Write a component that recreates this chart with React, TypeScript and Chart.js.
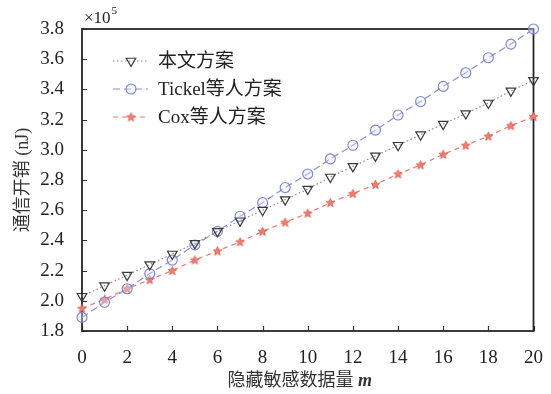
import React, { useEffect, useRef } from 'react';
import { Chart, registerables } from 'chart.js';
import { drawPoint } from 'chart.js/helpers';

Chart.register(...registerables);

const xValues = [0, 1, 2, 3, 4, 5, 6, 7, 8, 9, 10, 11, 12, 13, 14, 15, 16, 17, 18, 19, 20];
const oursValues = [2.03, 2.10, 2.17, 2.24, 2.31, 2.38, 2.46, 2.53, 2.60, 2.67, 2.74, 2.82, 2.89, 2.96, 3.03, 3.10, 3.17, 3.24, 3.31, 3.39, 3.46];
const tickelValues = [1.89, 1.99, 2.08, 2.18, 2.27, 2.37, 2.46, 2.56, 2.65, 2.75, 2.84, 2.94, 3.03, 3.13, 3.23, 3.32, 3.42, 3.51, 3.61, 3.70, 3.80];
const coxValues = [1.95, 2.01, 2.08, 2.14, 2.20, 2.27, 2.33, 2.39, 2.46, 2.52, 2.58, 2.65, 2.71, 2.77, 2.84, 2.90, 2.97, 3.03, 3.09, 3.16, 3.22];
const seriesLabels = ['本文方案', 'Tickel等人方案', 'Cox等人方案'];
const yAxisTitle = '通信开销 (nJ)';
const xAxisTitle = '隐藏敏感数据量';
const xAxisVar = 'm';
const yScaleNote = '×10';
const yScaleExp = '5';

const SERIF = '"Liberation Serif", "Noto Sans CJK SC", serif';

function makeStar(fill: string, stroke: string): HTMLCanvasElement {
  const c = document.createElement('canvas');
  c.width = 11;
  c.height = 11;
  const ctx = c.getContext('2d')!;
  const cx = 5.5, cy = 5.8, ro = 4.6, ri = 2.0;
  ctx.beginPath();
  for (let i = 0; i < 10; i++) {
    const r = i % 2 === 0 ? ro : ri;
    const a = -Math.PI / 2 + (i * Math.PI) / 5;
    const px = cx + r * Math.cos(a);
    const py = cy + r * Math.sin(a);
    if (i === 0) ctx.moveTo(px, py); else ctx.lineTo(px, py);
  }
  ctx.closePath();
  ctx.fillStyle = fill;
  ctx.fill();
  ctx.lineWidth = 0.8;
  ctx.strokeStyle = stroke;
  ctx.stroke();
  return c;
}

const decorPlugin = {
  id: 'decor',
  beforeDatasetsDraw(chart: any) {
    const { ctx, chartArea } = chart;
    const xs = chart.scales.x;
    const ys = chart.scales.y;
    ctx.save();
    ctx.strokeStyle = '#333';
    ctx.lineWidth = 1.2;
    ctx.beginPath();
    xs.ticks.forEach((t: any) => {
      const px = Math.round(xs.getPixelForValue(t.value)) + 0.5;
      ctx.moveTo(px, chartArea.bottom);
      ctx.lineTo(px, chartArea.bottom - 5);
    });
    ys.ticks.forEach((t: any) => {
      const py = Math.round(ys.getPixelForValue(t.value)) + 0.5;
      ctx.moveTo(chartArea.left, py);
      ctx.lineTo(chartArea.left + 5, py);
    });
    ctx.stroke();
    ctx.lineWidth = 1.8;
    ctx.strokeStyle = '#262626';
    ctx.strokeRect(chartArea.left, chartArea.top, chartArea.right - chartArea.left, chartArea.bottom - chartArea.top);
    ctx.restore();
  },
  afterDraw(chart: any) {
    const { ctx, chartArea } = chart;
    ctx.save();
    const rowY = [61, 89, 117];
    chart.data.datasets.forEach((ds: any, i: number) => {
      const y = rowY[i];
      ctx.save();
      ctx.strokeStyle = ds.borderColor;
      ctx.lineWidth = ds.borderWidth;
      ctx.setLineDash(ds.borderDash || []);
      ctx.beginPath();
      ctx.moveTo(chartArea.left + 31, y);
      ctx.lineTo(chartArea.left + 66, y);
      ctx.stroke();
      ctx.restore();
      ctx.save();
      ctx.strokeStyle = ds.pointBorderColor;
      ctx.fillStyle = ds.pointBackgroundColor;
      ctx.lineWidth = ds.pointBorderWidth;
      drawPoint(ctx, {
        pointStyle: ds.pointStyle,
        rotation: ds.pointRotation || 0,
        radius: ds.pointRadius,
        borderWidth: ds.pointBorderWidth,
      } as any, chartArea.left + 49, y);
      ctx.restore();
      ctx.fillStyle = '#222';
      ctx.font = '19px ' + SERIF;
      ctx.textBaseline = 'middle';
      ctx.textAlign = 'left';
      ctx.fillText(ds.label, chartArea.left + 76, y + 1);
    });
    ctx.fillStyle = '#333';
    ctx.font = '18px ' + SERIF;
    ctx.textBaseline = 'middle';
    ctx.textAlign = 'left';
    const w1 = ctx.measureText(xAxisTitle + ' ').width;
    ctx.font = 'italic bold 18px ' + SERIF;
    const w2 = ctx.measureText(xAxisVar).width;
    const startX = (chartArea.left + chartArea.right) / 2 - (w1 + w2) / 2 - 8;
    ctx.font = '18px ' + SERIF;
    ctx.fillText(xAxisTitle + ' ', startX, 381);
    ctx.font = 'italic bold 18px ' + SERIF;
    ctx.fillText(xAxisVar, startX + w1, 381);
    ctx.font = '17px ' + SERIF;
    ctx.fillStyle = '#222';
    ctx.textBaseline = 'alphabetic';
    ctx.fillText(yScaleNote, chartArea.left + 2, 23);
    const wn = ctx.measureText(yScaleNote).width;
    ctx.font = '11px ' + SERIF;
    ctx.fillText(yScaleExp, chartArea.left + 3 + wn, 14);
    ctx.restore();
  },
};

export default function App() {
  const canvasRef = useRef<HTMLCanvasElement | null>(null);

  useEffect(() => {
    if (!canvasRef.current) return;
    const star = makeStar('#ec8078', '#dc5448');
    const chart = new Chart(canvasRef.current, {
      type: 'line',
      data: {
        datasets: [
          {
            label: seriesLabels[0],
            data: xValues.map((x, i) => ({ x, y: oursValues[i] })),
            borderColor: '#8a8a8a',
            borderWidth: 1.2,
            borderDash: [1.5, 2.5],
            pointStyle: 'triangle',
            pointRotation: 180,
            pointRadius: 5.5,
            pointBorderColor: '#3a3a3a',
            pointBackgroundColor: 'rgba(255,255,255,0)',
            pointBorderWidth: 1.2,
            clip: false,
          } as any,
          {
            label: seriesLabels[1],
            data: xValues.map((x, i) => ({ x, y: tickelValues[i] })),
            borderColor: '#8a90d8',
            borderWidth: 1.2,
            borderDash: [7, 4],
            pointStyle: 'circle',
            pointRadius: 5,
            pointBorderColor: '#7c82cc',
            pointBackgroundColor: 'rgba(230,232,250,0.35)',
            pointBorderWidth: 1.1,
            clip: false,
          } as any,
          {
            label: seriesLabels[2],
            data: xValues.map((x, i) => ({ x, y: coxValues[i] })),
            borderColor: '#ea7a70',
            borderWidth: 1.2,
            borderDash: [5, 4],
            pointStyle: star,
            pointRadius: 4.5,
            pointBorderColor: '#d84a40',
            pointBackgroundColor: '#e8726a',
            pointBorderWidth: 1,
            clip: false,
          } as any,
        ],
      },
      options: {
        animation: false,
        responsive: false,
        layout: { padding: { top: 29, right: 14, left: 0, bottom: 0 } },
        plugins: { legend: { display: false }, tooltip: { enabled: false } },
        scales: {
          x: {
            type: 'linear',
            min: 0,
            max: 20,
            ticks: {
              stepSize: 2,
              padding: 8,
              color: '#222',
              font: { family: SERIF, size: 19 },
              maxRotation: 0,
            },
            grid: { display: false },
            border: { display: false },
            afterFit: (s: any) => { s.height = 63; },
          },
          y: {
            type: 'linear',
            min: 1.8,
            max: 3.8,
            ticks: {
              stepSize: 0.2,
              padding: 10,
              color: '#222',
              font: { family: SERIF, size: 19 },
              callback: (v: any) => Number(v).toFixed(1),
            },
            grid: { display: false },
            border: { display: false },
            title: {
              display: true,
              text: yAxisTitle,
              color: '#333',
              font: { family: SERIF, size: 18 },
              padding: { top: 12, bottom: 0 },
            },
            afterFit: (s: any) => { s.width = 82; },
          },
        },
      },
      plugins: [decorPlugin],
    });
    return () => chart.destroy();
  }, []);

  return (
    <div style={{ position: 'absolute', left: 0, top: 0, width: 551, height: 394, background: '#fff' }}>
      <canvas ref={canvasRef} width={551} height={394} style={{ display: 'block' }} />
    </div>
  );
}
